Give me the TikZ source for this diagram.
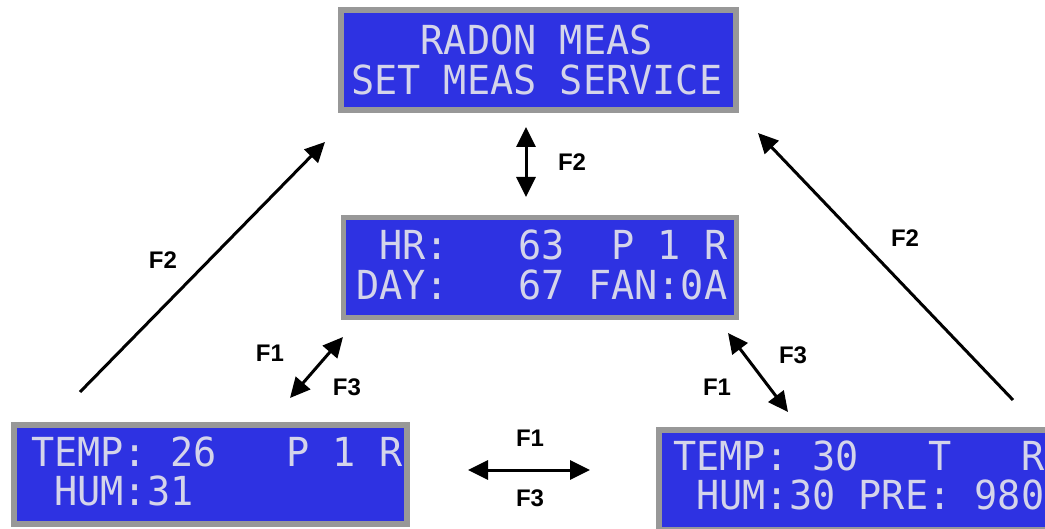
\documentclass[tikz,border=0pt]{standalone}
\usepackage{fontspec}
\usetikzlibrary{arrows.meta}
\newfontfamily\lcdfam[FakeStretch=0.963]{DejaVu Sans Mono}
\newfontfamily\lblfam{Liberation Sans}
\definecolor{lcdblue}{RGB}{46,50,226}
\definecolor{lcdtext}{RGB}{212,212,234}
\definecolor{lcdgray}{RGB}{152,152,152}
\newcommand\lcdfont{\fontsize{40}{40}\lcdfam\frenchspacing
  \fontdimen2\font=\fontcharwd\font`0\relax
  \fontdimen3\font=0pt\relax\fontdimen4\font=0pt\relax\fontdimen7\font=0pt\relax}
\tikzset{
  lcdpanel/.style={draw=lcdgray, fill=lcdblue, line width=5.5pt, inner sep=0pt},
  lcdtxt/.style={anchor=base west, inner sep=0pt, text=lcdtext, font=\lcdfont,
    text height=29pt, text depth=0pt},
  lbl/.style={inner sep=0pt, font=\fontsize{24}{24}\lblfam\bfseries},
  conn/.style={line width=3pt, black},
  tip/.style={-{Triangle[length=20pt,width=19pt]}},
  twotip/.style={{Triangle[length=20pt,width=19pt]}-{Triangle[length=20pt,width=19pt]}},
}
\begin{document}
\begin{tikzpicture}[x=1pt,y=-1pt]
\useasboundingbox (0,0) rectangle (1045,529);
\fill[white] (0,0) rectangle (1045,529);
\begin{scope}
\clip (0,0) rectangle (1045,529);
% panels
\node[lcdpanel, minimum width=395pt, minimum height=100pt] (top) at (538.5,60) {};
\node[lcdpanel, minimum width=393pt, minimum height=100pt] (mid) at (540,267.5) {};
\node[lcdpanel, minimum width=393pt, minimum height=99pt] (bl) at (210.5,474.5) {};
\node[lcdpanel, minimum width=390pt, minimum height=100pt] (br) at (854,480) {};
% texts
\node[lcdtxt] (top1) at (351,55) {~~~RADON~MEAS};
\node[lcdtxt] (top2) at (351,95) {SET~MEAS~SERVICE};
\node[lcdtxt] (mid1) at (356,260) {~HR:~~~63~~P~1~R};
\node[lcdtxt] (mid2) at (356,300) {DAY:~~~67~FAN:0A};
\node[lcdtxt] (bl1) at (31,467) {TEMP:~26~~~P~1~R};
\node[lcdtxt] (bl2) at (31,505) {~HUM:31};
\node[lcdtxt] (br1) at (673,470) {TEMP:~30~~~T~~~R};
\node[lcdtxt] (br2) at (673,509) {~HUM:30~PRE:~980};
\end{scope}
% connector end points
\coordinate (vA) at (526,127);
\coordinate (vB) at (526,197);
\coordinate (lA) at (80,392);
\coordinate (lB) at (325,142);
\coordinate (rA) at (1013,400);
\coordinate (rB) at (758,133);
\coordinate (dlA) at (290,398);
\coordinate (dlB) at (343,337);
\coordinate (drA) at (728,333);
\coordinate (drB) at (788,412);
\coordinate (hA) at (468,470);
\coordinate (hB) at (590,470);
\draw[conn, twotip] (vA) -- (vB);
\draw[conn, tip] (lA) -- (lB);
\draw[conn, tip] (rA) -- (rB);
\draw[conn, twotip] (dlA) -- (dlB);
\draw[conn, twotip] (drA) -- (drB);
\draw[conn, twotip] (hA) -- (hB);
% labels
\node[lbl] (f2t) at (572,162) {F2};
\node[lbl] (f2l) at (163,260) {F2};
\node[lbl] (f2r) at (905,238) {F2};
\node[lbl] (f1bl) at (270,353) {F1};
\node[lbl] (f3bl) at (347,387) {F3};
\node[lbl] (f3br) at (793,355) {F3};
\node[lbl] (f1br) at (717,387) {F1};
\node[lbl] (f1h) at (530,438) {F1};
\node[lbl] (f3h) at (530,498) {F3};
\end{tikzpicture}
\end{document}
